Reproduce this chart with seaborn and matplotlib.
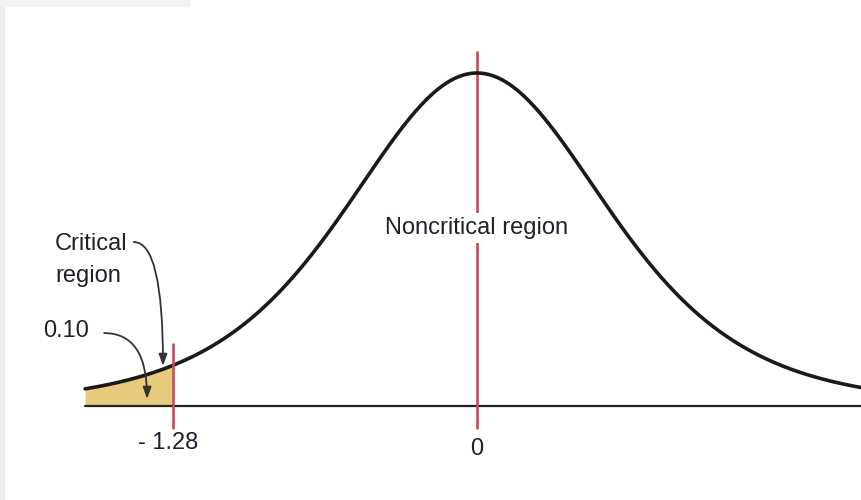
import numpy as np
import pandas as pd
import matplotlib
matplotlib.use("Agg")
import matplotlib.pyplot as plt
from matplotlib.patches import Rectangle
import seaborn as sns

# values shown in the figure
critical_value = -1.28
center_value = 0.0
alpha_label = "0.10"
tick_values = [critical_value, center_value]
tick_labels = ["- 1.28", "0"]
region_labels = ["Critical", "region", "Noncritical region"]

# schematic bell curve (textbook figure, not drawn to scale)
curve_scale = 0.568
curve_df = 5
x_start, x_end = -1.65, 1.62

sns.set_style("white")
plt.rcParams["font.family"] = ["Liberation Sans Narrow", "Liberation Sans", "DejaVu Sans"]

fig = plt.figure(figsize=(8.61, 5.0), dpi=100)
ax = fig.add_axes([0, 0, 1, 1])

x = np.linspace(x_start, x_end + 0.05, 600)
y = (1 + (x / curve_scale) ** 2 / curve_df) ** (-(curve_df + 1) / 2)
df = pd.DataFrame({"z": x, "density": y})

# shaded critical region
tail = df[df["z"] <= critical_value]
ax.fill_between(tail["z"], 0, tail["density"], color="#E8CA7C", lw=0, zorder=1)

# baseline
ax.plot([x_start, x_end + 0.05], [0, 0], color="#222222", lw=1.6, zorder=2)

# the curve
sns.lineplot(data=df, x="z", y="density", color="#1a1a1a", lw=2.6, ax=ax, zorder=3)

# red markers at critical value and mean
line_color = "#C44A5E"
ax.plot([critical_value, critical_value], [-0.066, 0.186], color=line_color, lw=1.9, zorder=4)
ax.plot([center_value, center_value], [-0.066, 1.063], color=line_color, lw=1.9, zorder=2)

txt_color = "#20202e"
fs = 17
ax.text(center_value, 0.535, region_labels[2], ha="center", va="center", fontsize=fs,
        color=txt_color, zorder=5, bbox=dict(fc="white", ec="none", pad=3))

tick_y = [-0.111, -0.129]
for val, lab, ty in zip(tick_values, tick_labels, tick_y):
    ax.text(val - (0.02 if val < 0 else 0), ty, lab, ha="center", va="center",
            fontsize=fs, color=txt_color)

ax.text(-1.777, 0.469, region_labels[0], ha="left", va="baseline", fontsize=fs, color=txt_color)
ax.text(-1.777, 0.372, region_labels[1], ha="left", va="baseline", fontsize=fs, color=txt_color)
ax.text(-1.827, 0.207, alpha_label, ha="left", va="baseline", fontsize=fs, color=txt_color)

arrow_kw = dict(arrowstyle="-|>,head_length=0.7,head_width=0.25", color="#333333", lw=1.3,
                shrinkA=0, shrinkB=0, connectionstyle="angle3,angleA=0,angleB=90")
ax.annotate("", xy=(-1.322, 0.12), xytext=(-1.445, 0.4925), arrowprops=arrow_kw)
ax.annotate("", xy=(-1.389, 0.021), xytext=(-1.57, 0.219), arrowprops=arrow_kw)

ax.set_xlim(-477 / 237.5, 384 / 237.5)
ax.set_ylim(-94 / 333, 406 / 333)
ax.axis("off")

# faint page border from the scanned figure
fig.patches.append(Rectangle((0, 0), 0.005, 1, transform=fig.transFigure, color="#eeeeee", zorder=0))
fig.patches.append(Rectangle((0, 0.988), 0.22, 0.012, transform=fig.transFigure, color="#f2f2f2", zorder=0))

fig.savefig("out.png", dpi=100)
plt.close(fig)
